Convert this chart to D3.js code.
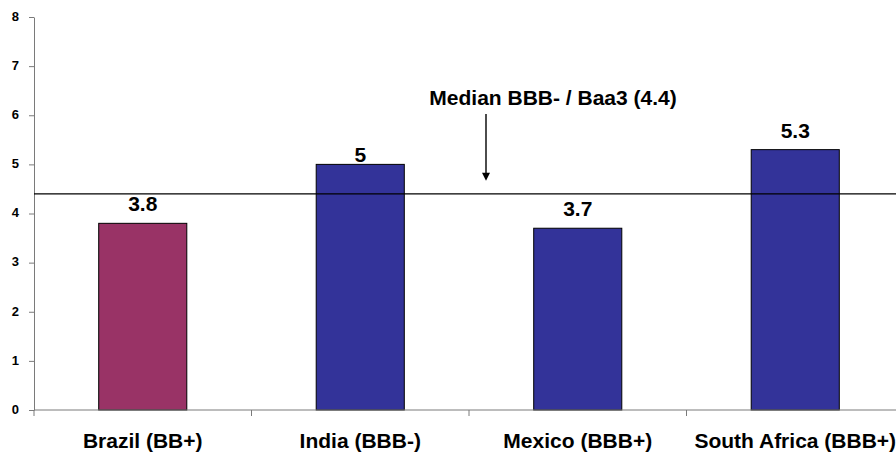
<!DOCTYPE html>
<html>
<head>
<meta charset="utf-8">
<script src="https://cdn.jsdelivr.net/npm/d3@7/dist/d3.min.js"></script>
<style>
  html, body { margin: 0; padding: 0; background: #fff; }
  svg { display: block; font-family: "Liberation Sans", Arial, sans-serif; }
  .y-axis .tick text { font-size: 13px; font-weight: bold; fill: #000; }
</style>
</head>
<body>
<svg id="chart" width="896" height="454"></svg>
<script>
// Sovereign ratings and the value per country
const categories = ["Brazil (BB+)", "India (BBB-)", "Mexico (BBB+)", "South Africa (BBB+)"];
const values = [3.8, 5, 3.7, 5.3];
const valueLabels = ["3.8", "5", "3.7", "5.3"];
const barColors = ["#993366", "#333399", "#333399", "#333399"];
const yTicks = [0, 1, 2, 3, 4, 5, 6, 7, 8];
const medianValue = 4.4;
const medianLabel = "Median BBB- / Baa3 (4.4)";

const svg = d3.select("#chart");

const plot = { left: 34, right: 904, top: 17, bottom: 410 };

const y = d3.scaleLinear().domain([0, 8]).range([plot.bottom, plot.top]);
const x = d3.scaleBand()
  .domain(categories)
  .range([plot.left, plot.right])
  .paddingInner(0.595)
  .paddingOuter(0.2975);

const axisColor = "#7a7a7a";

// Bars
svg.append("g").selectAll("rect")
  .data(categories)
  .join("rect")
  .attr("x", d => x(d))
  .attr("y", (d, i) => y(values[i]))
  .attr("width", x.bandwidth())
  .attr("height", (d, i) => y(0) - y(values[i]))
  .attr("fill", (d, i) => barColors[i])
  .attr("stroke", "#000")
  .attr("stroke-width", 1);

// Value labels above bars (India's sits closer to its bar)
const labelLift = { "India (BBB-)": 2 };
svg.append("g").selectAll("text")
  .data(categories)
  .join("text")
  .attr("x", d => x(d) + x.bandwidth() / 2)
  .attr("y", (d, i) => y(values[i]) - (labelLift[d] !== undefined ? labelLift[d] : 12))
  .attr("text-anchor", "middle")
  .style("font-size", "21px")
  .style("font-weight", "bold")
  .attr("fill", "#000")
  .text((d, i) => valueLabels[i]);

// Y axis
const yAxis = svg.append("g")
  .attr("class", "y-axis")
  .attr("transform", `translate(${plot.left},0)`)
  .call(d3.axisLeft(y).tickValues(yTicks).tickFormat(d3.format("d"))
    .tickSize(5).tickSizeOuter(0).tickPadding(10));
yAxis.attr("font-size", null).attr("font-family", null);
yAxis.select(".domain").attr("stroke", axisColor);
yAxis.selectAll(".tick line").attr("stroke", axisColor);
yAxis.selectAll(".tick text").attr("dy", "0.25em");

// X axis: baseline, tick marks between categories, category names
const xAxis = svg.append("g");
xAxis.append("line")
  .attr("x1", plot.left).attr("x2", 896)
  .attr("y1", y(0)).attr("y2", y(0))
  .attr("stroke", axisColor);
const boundaries = categories.map((d, i) => plot.left + i * x.step());
xAxis.selectAll("line.tick")
  .data(boundaries)
  .join("line")
  .attr("class", "tick")
  .attr("x1", d => d).attr("x2", d => d)
  .attr("y1", y(0)).attr("y2", y(0) + 6)
  .attr("stroke", axisColor);
xAxis.selectAll("text")
  .data(categories)
  .join("text")
  .attr("x", d => x(d) + x.bandwidth() / 2)
  .attr("y", 448)
  .attr("text-anchor", "middle")
  .style("font-size", "21px")
  .style("font-weight", "bold")
  .attr("fill", "#000")
  .text(d => d);

// Median reference line
const yMed = y(medianValue);
svg.append("line")
  .attr("x1", plot.left).attr("x2", 896)
  .attr("y1", yMed).attr("y2", yMed)
  .attr("stroke", "#000")
  .attr("stroke-width", 1.2);

// Median caption and arrow pointing to the line
svg.append("text")
  .attr("x", 553)
  .attr("y", 105)
  .attr("text-anchor", "middle")
  .style("font-size", "21px")
  .style("font-weight", "bold")
  .attr("fill", "#000")
  .text(medianLabel);

const arrowX = 486;
const arrowTip = yMed - 13;
svg.append("line")
  .attr("x1", arrowX).attr("x2", arrowX)
  .attr("y1", 114).attr("y2", arrowTip - 6)
  .attr("stroke", "#000")
  .attr("stroke-width", 1.4);
svg.append("path")
  .attr("d", `M${arrowX - 4},${arrowTip - 8} L${arrowX + 4},${arrowTip - 8} L${arrowX},${arrowTip} Z`)
  .attr("fill", "#000");
</script>
</body>
</html>
